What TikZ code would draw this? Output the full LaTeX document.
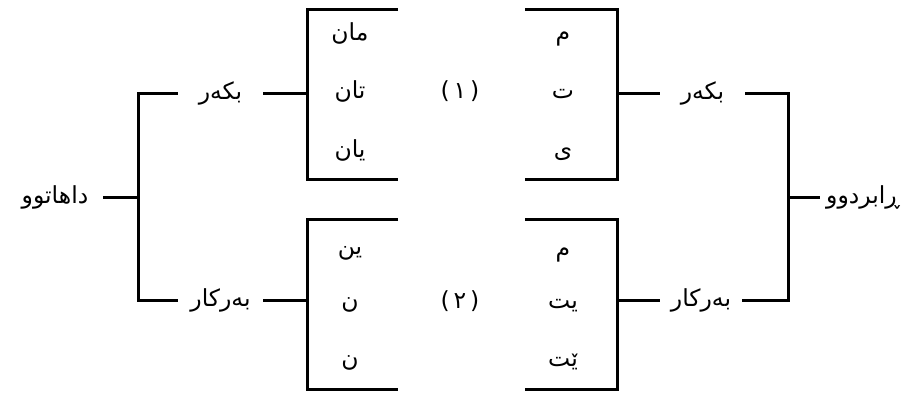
\documentclass[tikz,border=0pt]{standalone}
\usepackage{fontspec}
\newfontfamily\arabicfont[Script=Arabic]{DejaVu Sans}
\TeXXeTstate=1
\newcommand\rtltext[1]{\beginR #1\endR}
\begin{document}
\begin{tikzpicture}[x=1pt,y=-1pt,
  wire/.style={line width=3pt, line join=miter, black},
  lbl/.style={font=\arabicfont\fontsize{23.5}{28}\selectfont, inner sep=0pt, text height=17pt, text depth=4pt, anchor=center},
  gapnode/.style={lbl, minimum width=#1}]
\useasboundingbox (0,0) rectangle (914,392);
% outer labels
\node[gapnode=96pt] (dah) at (55,197) {\rtltext{داهاتوو}};
\node[gapnode=86pt] (rab) at (863,197) {\rtltext{ڕابردوو}};
% middle labels
\node[gapnode=85pt] (bkL) at (220.5,93) {\rtltext{بکەر}};
\node[gapnode=85pt] (brL) at (220.5,300) {\rtltext{بەرکار}};
\node[gapnode=85pt] (bkR) at (702.5,93) {\rtltext{بکەر}};
\node[gapnode=82pt] (brR) at (701,300) {\rtltext{بەرکار}};
% junctions
\coordinate (jL) at (138,197);
\coordinate (jLt) at (138,93);
\coordinate (jLb) at (138,300);
\coordinate (jR) at (788,197);
\coordinate (jRt) at (788,93);
\coordinate (jRb) at (788,300);
% box corners
\coordinate (aTL) at (307,9);   \coordinate (aBL) at (307,179);
\coordinate (aTR) at (398,9);   \coordinate (aBR) at (398,179);
\coordinate (bTL) at (525,9);   \coordinate (bBL) at (525,179);
\coordinate (bTR) at (617,9);   \coordinate (bBR) at (617,179);
\coordinate (cTL) at (307,219); \coordinate (cBL) at (307,389);
\coordinate (cTR) at (398,219); \coordinate (cBR) at (398,389);
\coordinate (dTL) at (525,219); \coordinate (dBL) at (525,389);
\coordinate (dTR) at (617,219); \coordinate (dBR) at (617,389);
% boxes
\draw[wire] (aTR) -- (aTL) -- (aBL) -- (aBR);
\draw[wire] (bTL) -- (bTR) -- (bBR) -- (bBL);
\draw[wire] (cTR) -- (cTL) -- (cBL) -- (cBR);
\draw[wire] (dTL) -- (dTR) -- (dBR) -- (dBL);
% left tree
\draw[wire] (dah.east) -- (jL);
\draw[wire] (bkL.west) -- (jLt) -- (jLb) -- (brL.west);
\draw[wire] (bkL.east) -- (bkL.east -| aTL);
\draw[wire] (brL.east) -- (brL.east -| cTL);
% right tree
\draw[wire] (rab.west) -- (jR);
\draw[wire] (bkR.east) -- (jRt) -- (jRb) -- (brR.east);
\draw[wire] (bkR.west) -- (bkR.west -| bTR);
\draw[wire] (brR.west) -- (brR.west -| dTR);
% box contents
\node[lbl] (a1) at (350,34) {\rtltext{مان}};
\node[lbl] (a2) at (350,92) {\rtltext{تان}};
\node[lbl] (a3) at (350,151) {\rtltext{یان}};
\node[lbl] (b1) at (563,34) {\rtltext{م}};
\node[lbl] (b2) at (563,92) {\rtltext{ت}};
\node[lbl] (b3) at (563,151) {\rtltext{ی}};
\node[lbl] (c1) at (350,248) {\rtltext{ین}};
\node[lbl] (c2) at (350,302) {\rtltext{ن}};
\node[lbl] (c3) at (350,360) {\rtltext{ن}};
\node[lbl] (d1) at (563,250) {\rtltext{م}};
\node[lbl] (d2) at (563,302) {\rtltext{یت}};
\node[lbl] (d3) at (563,360) {\rtltext{ێت}};
\node[lbl] (n1) at (460,92) {\rtltext{(\,١\,)}};
\node[lbl] (n2) at (460,302) {\rtltext{(\,٢\,)}};
\end{tikzpicture}
\end{document}
